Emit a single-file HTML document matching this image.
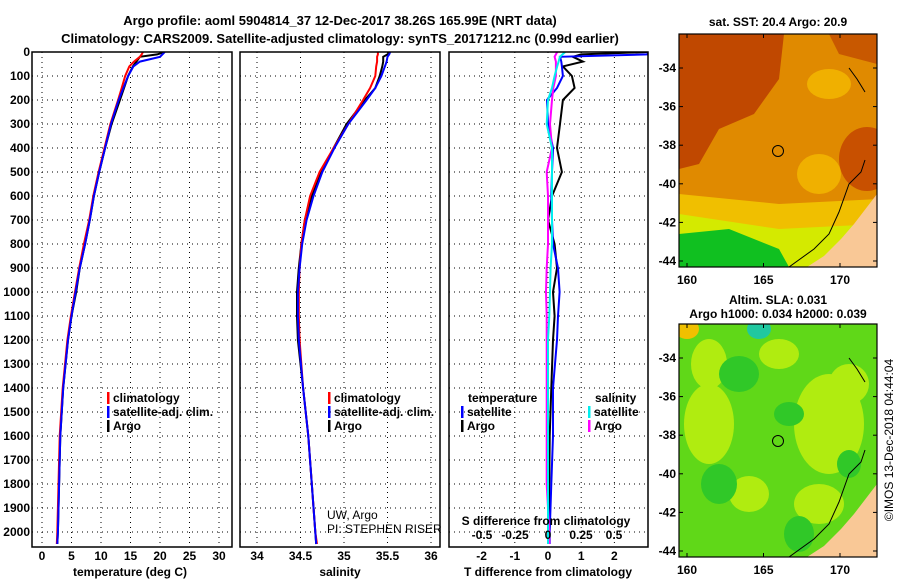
<!DOCTYPE html>
<html><head><meta charset="utf-8"><style>
body{margin:0;background:#fff;}
svg{display:block;font-family:"Liberation Sans",sans-serif;}
.t{font-weight:bold;font-size:13px;}
.tk{font-weight:bold;font-size:12px;}
</style></head><body>
<svg id="c" width="900" height="580" viewBox="0 0 900 580">
<text x="340" y="25" text-anchor="middle" class="t" font-size="14">Argo profile: aoml 5904814_37 12-Dec-2017 38.26S 165.99E (NRT data)</text>
<text x="340" y="43" text-anchor="middle" class="t" font-size="14">Climatology: CARS2009. Satellite-adjusted climatology: synTS_20171212.nc (0.99d earlier)</text>
</svg>
<script>
// ---- data ----
const depthT = [0,10,20,40,60,100,150,200,300,400,500,600,700,800,900,1000,1100,1200,1400,1600,1800,2000,2050];
const tempArgo = [20.8,19.5,16.6,16.0,15.4,14.6,13.9,13.2,11.8,10.7,9.7,8.8,8.1,7.3,6.4,5.8,5.0,4.4,3.6,3.1,2.9,2.7,2.6];
const tempClim = [17.1,16.9,16.6,15.6,14.8,14.1,13.5,12.9,11.6,10.6,9.6,8.7,8.0,7.1,6.3,5.6,4.9,4.3,3.5,3.0,2.8,2.6,2.5];
const tempSat  = [20.8,20.4,20.0,16.6,15.5,14.6,13.8,13.0,11.7,10.7,9.7,8.8,8.1,7.3,6.4,5.7,5.0,4.4,3.6,3.1,2.9,2.7,2.6];
const salArgo = [35.53,35.50,35.45,35.45,35.44,35.41,35.36,35.24,35.03,34.88,34.74,34.63,34.55,34.51,34.48,34.46,34.46,34.47,34.53,34.59,34.63,34.67,34.68];
const salClim = [35.39,35.39,35.38,35.38,35.37,35.36,35.30,35.22,35.05,34.88,34.72,34.61,34.55,34.51,34.49,34.48,34.48,34.49,34.53,34.59,34.63,34.67,34.69];
const salSat  = [35.53,35.52,35.50,35.49,35.47,35.43,35.36,35.26,35.05,34.89,34.75,34.65,34.57,34.52,34.49,34.47,34.47,34.48,34.53,34.59,34.63,34.67,34.68];
const dTArgo = [3.0,1.0,0.75,1.05,0.45,0.72,0.8,0.45,0.36,0.27,0.42,0.12,0.0,0.2,0.27,0.15,0.2,0.15,0.1,0.05,0.04,0.03,0.03];
const dTSat  = [3.0,3.0,0.36,0.4,0.42,0.45,0.27,-0.03,0.0,0.15,0.12,0.1,0.12,0.15,0.3,0.35,0.3,0.27,0.15,0.15,0.1,0.05,0.05];
const dSSat  = [0.13,0.11,0.09,0.08,0.07,0.05,0.03,0.0,-0.01,0.03,0.03,0.03,0.03,0.03,0.02,0.015,0.01,0.0,0.0,0.0,0.0,0.0,0.0];
const dSArgo = [0.07,0.06,0.05,0.06,0.06,0.06,0.04,0.03,0.015,0.03,-0.01,0.0,0.0,0.0,-0.01,-0.015,-0.01,-0.01,-0.01,-0.01,-0.01,0.01,0.01];
const depthTicks = [0,100,200,300,400,500,600,700,800,900,1000,1100,1200,1300,1400,1500,1600,1700,1800,1900,2000];
const tempTicks = [0,5,10,15,20,25,30];
const salTicks = [34,34.5,35,35.5,36];
const salTickLabels = ["34","34.5","35","35.5","36"];
const dTTicks = [-2,-1,0,1,2];
const dSTicks = [-0.5,-0.25,0,0.25,0.5];
const dSTickLabels = ["-0.5","-0.25","0","0.25","0.5"];

const svg = document.getElementById('c');
const NS = 'http://www.w3.org/2000/svg';
function mk(tag, attrs, parent){const e=document.createElementNS(NS,tag);for(const k in attrs)e.setAttribute(k,attrs[k]);(parent||svg).appendChild(e);return e;}
const yD = d => 52 + d*0.24;
const TOP=52, BOT=547;
const xT = t => 42 + t*5.9;
const xS = s => 257 + (s-34)*87;
const xDT = v => 548 + v*33.2;
const xDS = v => 548 + v*132;
const panels=[{l:32,r:232,name:'temperature-panel'},{l:240,r:440,name:'salinity-panel'},{l:449,r:648,name:'difference-panel'}];

panels.forEach((p,i)=>{
  const g=mk('g',{});
  
  
  p.g=g;
  const cp=mk('clipPath',{id:'cp'+i},g);
  mk('rect',{x:p.l,y:TOP,width:p.r-p.l,height:BOT-TOP},cp);
  depthTicks.forEach(d=>{ if(d>0){const l=mk('line',{x1:p.l,x2:p.r,y1:yD(d),y2:yD(d),stroke:'#000','stroke-width':1,'stroke-dasharray':'1,4'},g);
    
    }});
});
depthTicks.forEach(d=>{const t=mk('text',{x:30,y:yD(d)+4,'text-anchor':'end',class:'tk'});t.textContent=d;
  
  });

function vgrid(p,ticks,fx,labels,ly){
  ticks.forEach((v,k)=>{const x=fx(v);
    const l=mk('line',{x1:x,x2:x,y1:TOP,y2:BOT,stroke:'#000','stroke-width':1,'stroke-dasharray':'1,4'},p.g);
    
    
    if(labels){const t=mk('text',{x:x,y:ly,'text-anchor':'middle',class:'tk'});t.textContent=labels[k];
      
      }
  });
}
vgrid(panels[0],tempTicks,xT,tempTicks.map(String),560);
vgrid(panels[1],salTicks,xS,salTickLabels,560);
vgrid(panels[2],dTTicks,xDT,dTTicks.map(String),560);
dSTicks.forEach((v,k)=>{const t=mk('text',{x:xDS(v),y:539,'text-anchor':'middle',class:'tk'});t.textContent=dSTickLabels[k];
  
  });

function line(p,i,vals,fx,color,name,w){
  const d=vals.map((v,k)=>(k?'L':'M')+fx(v).toFixed(1)+','+yD(depthT[k]).toFixed(1)).join('');
  const e=mk('path',{d:d,fill:'none',stroke:color,'stroke-width':w||2,'clip-path':'url(#cp'+i+')'},p.g);
  
  
}
line(panels[0],0,tempArgo,xT,'#000','temp-argo-line');
line(panels[0],0,tempClim,xT,'#f00','temp-climatology-line');
line(panels[0],0,tempSat,xT,'#00f','temp-satellite-line');
line(panels[1],1,salArgo,xS,'#000','salinity-argo-line');
line(panels[1],1,salClim,xS,'#f00','salinity-climatology-line');
line(panels[1],1,salSat,xS,'#00f','salinity-satellite-line');
line(panels[2],2,dTArgo,xDT,'#000','tdiff-argo-line');
line(panels[2],2,dTSat,xDT,'#00f','tdiff-satellite-line');
line(panels[2],2,dSArgo,xDS,'#f0f','sdiff-argo-line');
line(panels[2],2,dSSat,xDS,'#0ee','sdiff-satellite-line');

panels.forEach(p=>{const r=mk('rect',{x:p.l,y:TOP,width:p.r-p.l,height:BOT-TOP,fill:'none',stroke:'#000','stroke-width':1.5},p.g);
  
  });

function txt(x,y,s,name,extra){const t=mk('text',Object.assign({x:x,y:y,class:'tk'},extra||{}));t.textContent=s;
  
  return t;}
txt(130,576,'temperature (deg C)','x-axis-title-temperature',{'text-anchor':'middle'});
txt(340,576,'salinity','x-axis-title-salinity',{'text-anchor':'middle'});
txt(548,576,'T difference from climatology','x-axis-title-tdiff',{'text-anchor':'middle'});
txt(546,525,'S difference from climatology','x-axis-title-sdiff',{'text-anchor':'middle'});

function leg(x,y,color,label,name){
  const g=mk('g',{});
  
  
  mk('rect',{x:x,y:y-10,width:2.5,height:12,fill:color},g);
  const t=mk('text',{x:x+6,y:y,class:'tk'},g);t.textContent=label;
}
leg(107,402,'#f00','climatology','legend-climatology');
leg(107,416,'#00f','satellite-adj. clim.','legend-satellite');
leg(107,430,'#000','Argo','legend-argo');
leg(328,402,'#f00','climatology','legend-climatology-sal');
leg(328,416,'#00f','satellite-adj. clim.','legend-satellite-sal');
leg(328,430,'#000','Argo','legend-argo-sal');
txt(468,402,'temperature','legend-title-temperature');
txt(595,402,'salinity','legend-title-salinity');
leg(461,416,'#00f','satellite','legend-tdiff-satellite');
leg(461,430,'#000','Argo','legend-tdiff-argo');
leg(588,416,'#0ee','satellite','legend-sdiff-satellite');
leg(588,430,'#f0f','Argo','legend-sdiff-argo');
txt(327,519,'UW, Argo','pi-institution',{style:'font-weight:normal;font-size:12px'});
txt(327,533,'PI: STEPHEN RISER','pi-name',{style:'font-weight:normal;font-size:12px'});

// ---- maps ----
const mapL=679,mapR=877;
const xLon=l=>687+(l-160)*15.3;
const latTicks=[-34,-36,-38,-40,-42,-44];
const lonTicks=[160,165,170];
function map(top,idx,name,title1,title2,draw){
  const g=mk('g',{});
  
  
  const cp=mk('clipPath',{id:'mc'+idx},g);
  mk('rect',{x:mapL,y:top,width:mapR-mapL,height:233},cp);
  const inner=mk('g',{'clip-path':'url(#mc'+idx+')'},g);
  draw(inner,top);
  mk('path',{d:`M${mapL+128},${top+233} L${mapL+145},${top+222} L${mapL+162},${top+205} L${mapL+175},${top+190} L${mapR},${top+160} L${mapR},${top+233} Z`,fill:'#f9c896'},inner);
  mk('path',{d:`M${mapL+110},${top+233} L${mapL+135},${top+215} L${mapL+150},${top+200} L${mapL+160},${top+178} L${mapL+170},${top+150} L${mapL+182},${top+138} L${mapL+186},${top+126}`,fill:'none',stroke:'#000','stroke-width':1},inner);
  mk('path',{d:`M${mapL+170},${top+34} L${mapL+178},${top+45} L${mapL+186},${top+58}`,fill:'none',stroke:'#000','stroke-width':1},inner);
  const c=mk('circle',{cx:778,cy:top+117,r:5.5,fill:'none',stroke:'#000','stroke-width':1},g);
  
  
  mk('rect',{x:mapL,y:top,width:mapR-mapL,height:233,fill:'none',stroke:'#000','stroke-width':1.2},g);
  latTicks.forEach((la,k)=>{const y=top+34+k*38.6;
    mk('line',{x1:mapL,x2:mapL+4,y1:y,y2:y,stroke:'#000'},g);mk('line',{x1:mapR-4,x2:mapR,y1:y,y2:y,stroke:'#000'},g);
    const t=mk('text',{x:mapL-3,y:y+4,'text-anchor':'end',class:'tk'},g);t.textContent=la;});
  lonTicks.forEach(lo=>{const x=xLon(lo);mk('line',{x1:x,x2:x,y1:top+233,y2:top+229,stroke:'#000'},g);mk('line',{x1:x,x2:x,y1:top,y2:top+4,stroke:'#000'},g);
    const t=mk('text',{x:x,y:top+250,'text-anchor':'middle',class:'tk'},g);t.textContent=lo;});
  const t1=mk('text',{x:778,y:top-(title2?20:8),'text-anchor':'middle',class:'tk'},g);t1.textContent=title1;
  if(title2){const t2=mk('text',{x:778,y:top-6,'text-anchor':'middle',class:'tk'},g);t2.textContent=title2;}
}
map(34,0,'sst-map','sat. SST: 20.4 Argo: 20.9',null,(g,top)=>{
  mk('rect',{x:mapL,y:top,width:200,height:233,fill:'#e08a00'},g);
  mk('rect',{x:mapL,y:top,width:200,height:233,fill:'#e08a00'},g);
  mk('path',{d:`M${mapL},${top+160} L${mapL+100},${top+170} L${mapL+200},${top+165} L${mapL+200},${top+233} L${mapL},${top+233}Z`,fill:'#f0bf00'},g);
  mk('path',{d:`M${mapL},${top+180} L${mapL+100},${top+195} L${mapL+200},${top+190} L${mapL+200},${top+233} L${mapL},${top+233}Z`,fill:'#d4ea00'},g);
  mk('path',{d:`M${mapL},${top+200} L${mapL+50},${top+195} L${mapL+100},${top+215} L${mapL+110},${top+233} L${mapL},${top+233}Z`,fill:'#10c020'},g);
  mk('path',{d:`M${mapL},${top} L${mapL+105},${top} L${mapL+100},${top+45} L${mapL+75},${top+80} L${mapL+40},${top+95} L${mapL+20},${top+130} L${mapL},${top+135}Z`,fill:'#c04800'},g);
  mk('path',{d:`M${mapL+150},${top} L${mapR},${top} L${mapR},${top+30} L${mapL+160},${top+20}Z`,fill:'#c85800'},g);
  mk('ellipse',{cx:mapR-10,cy:top+125,rx:28,ry:32,fill:'#c85000'},g);
  mk('ellipse',{cx:mapL+140,cy:top+140,rx:22,ry:20,fill:'#f0b000'},g);
  mk('ellipse',{cx:mapL+150,cy:top+50,rx:22,ry:15,fill:'#f0b000'},g);
});
map(324,1,'sla-map','Altim. SLA: 0.031','Argo h1000: 0.034 h2000: 0.039',(g,top)=>{
  mk('rect',{x:mapL,y:top,width:200,height:233,fill:'#60d818'},g);
  [[30,100,25,40],[150,100,35,50],[30,40,18,25],[100,30,20,15],[170,60,20,20],[70,170,20,18],[140,180,25,20]].forEach(b=>mk('ellipse',{cx:mapL+b[0],cy:top+b[1],rx:b[2],ry:b[3],fill:'#b0ec10'},g));
  [[60,50,20,18],[110,90,15,12],[40,160,18,20],[120,210,15,18],[170,140,12,14]].forEach(b=>mk('ellipse',{cx:mapL+b[0],cy:top+b[1],rx:b[2],ry:b[3],fill:'#30c828'},g));
  mk('ellipse',{cx:mapL+80,cy:top+5,rx:12,ry:10,fill:'#20c8a0'},g);
  mk('ellipse',{cx:mapL+8,cy:top+5,rx:12,ry:10,fill:'#f0c000'},g);
});
txt(893,440,'©IMOS 13-Dec-2018 04:44:04','imos-timestamp',{style:'font-weight:normal;font-size:12px',transform:'rotate(-90 893 440)','text-anchor':'middle'});
</script>
</body></html>
